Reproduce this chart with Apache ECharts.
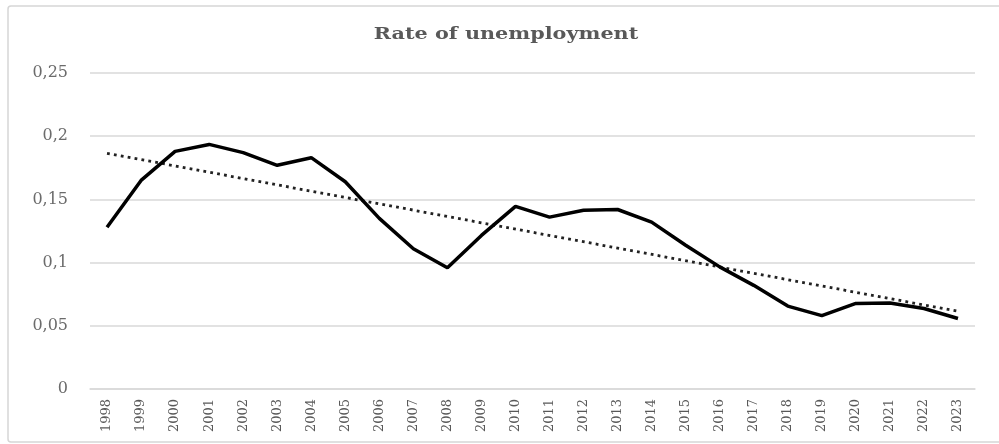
<!DOCTYPE html>
<html>
<head>
<meta charset="utf-8">
<script src="https://cdn.jsdelivr.net/npm/echarts@6/dist/echarts.min.js"></script>
<style>
html,body{margin:0;padding:0;background:#fff;}
#chart{width:999px;height:444px;}
</style>
</head>
<body>
<div id="chart"></div>
<script>
const years = ['1998','1999','2000','2001','2002','2003','2004','2005','2006','2007','2008','2009','2010','2011','2012','2013','2014','2015','2016','2017','2018','2019','2020','2021','2022','2023'];
const unemployment = [0.128,0.165,0.188,0.1935,0.187,0.177,0.183,0.164,0.135,0.111,0.096,0.1215,0.1445,0.136,0.1414,0.142,0.132,0.1137,0.0966,0.082,0.0656,0.058,0.0677,0.068,0.0637,0.0558];
const trendEnds = [0.1865,null,null,null,null,null,null,null,null,null,null,null,null,null,null,null,null,null,null,null,null,null,null,null,null,0.0615];
const yTicks = {min:0, max:0.25, interval:0.05};
const titleText = 'Rate of unemployment';

const chart = echarts.init(document.getElementById('chart'), null, {renderer:'canvas'});
chart.setOption({
  backgroundColor:'#ffffff',
  animation:false,
  graphic:[{
    type:'rect', silent:true,
    shape:{x:8, y:6, width:1000, height:436, r:3},
    style:{fill:'none', stroke:'#d6d6d6', lineWidth:1.5}
  },{
    type:'text', silent:true,
    x:506, y:35, scaleX:1.22, scaleY:1,
    style:{text:titleText, font:'bold 17px "DejaVu Serif"', fill:'#595959',
      textAlign:'center', textVerticalAlign:'middle'}
  }],
  grid:{left:90, right:24, top:73, bottom:55, containLabel:false},
  xAxis:{
    type:'category', data:years, boundaryGap:true,
    axisLine:{show:true, lineStyle:{color:'#d9d9d9', width:1.5}},
    axisTick:{show:false},
    axisLabel:{rotate:90, margin:10, interval:0, fontFamily:'DejaVu Serif', fontSize:13, color:'#595959'}
  },
  yAxis:{
    type:'value', min:yTicks.min, max:yTicks.max, interval:yTicks.interval,
    axisLine:{show:false}, axisTick:{show:false},
    splitLine:{lineStyle:{color:'#d9d9d9', width:1.5}},
    axisLabel:{margin:22, fontFamily:'DejaVu Serif', fontSize:16, color:'#6b6b6b',
      formatter:v => String(+v.toFixed(2)).replace('.', ',')}
  },
  series:[
    {type:'line', data:unemployment, symbol:'none', lineStyle:{color:'#000', width:3.5}, z:3},
    {type:'line', data:trendEnds, connectNulls:true, symbol:'none',
     lineStyle:{color:'#222', width:2.8, type:[2.8,4.2]}, z:2}
  ]
});
</script>
</body>
</html>
